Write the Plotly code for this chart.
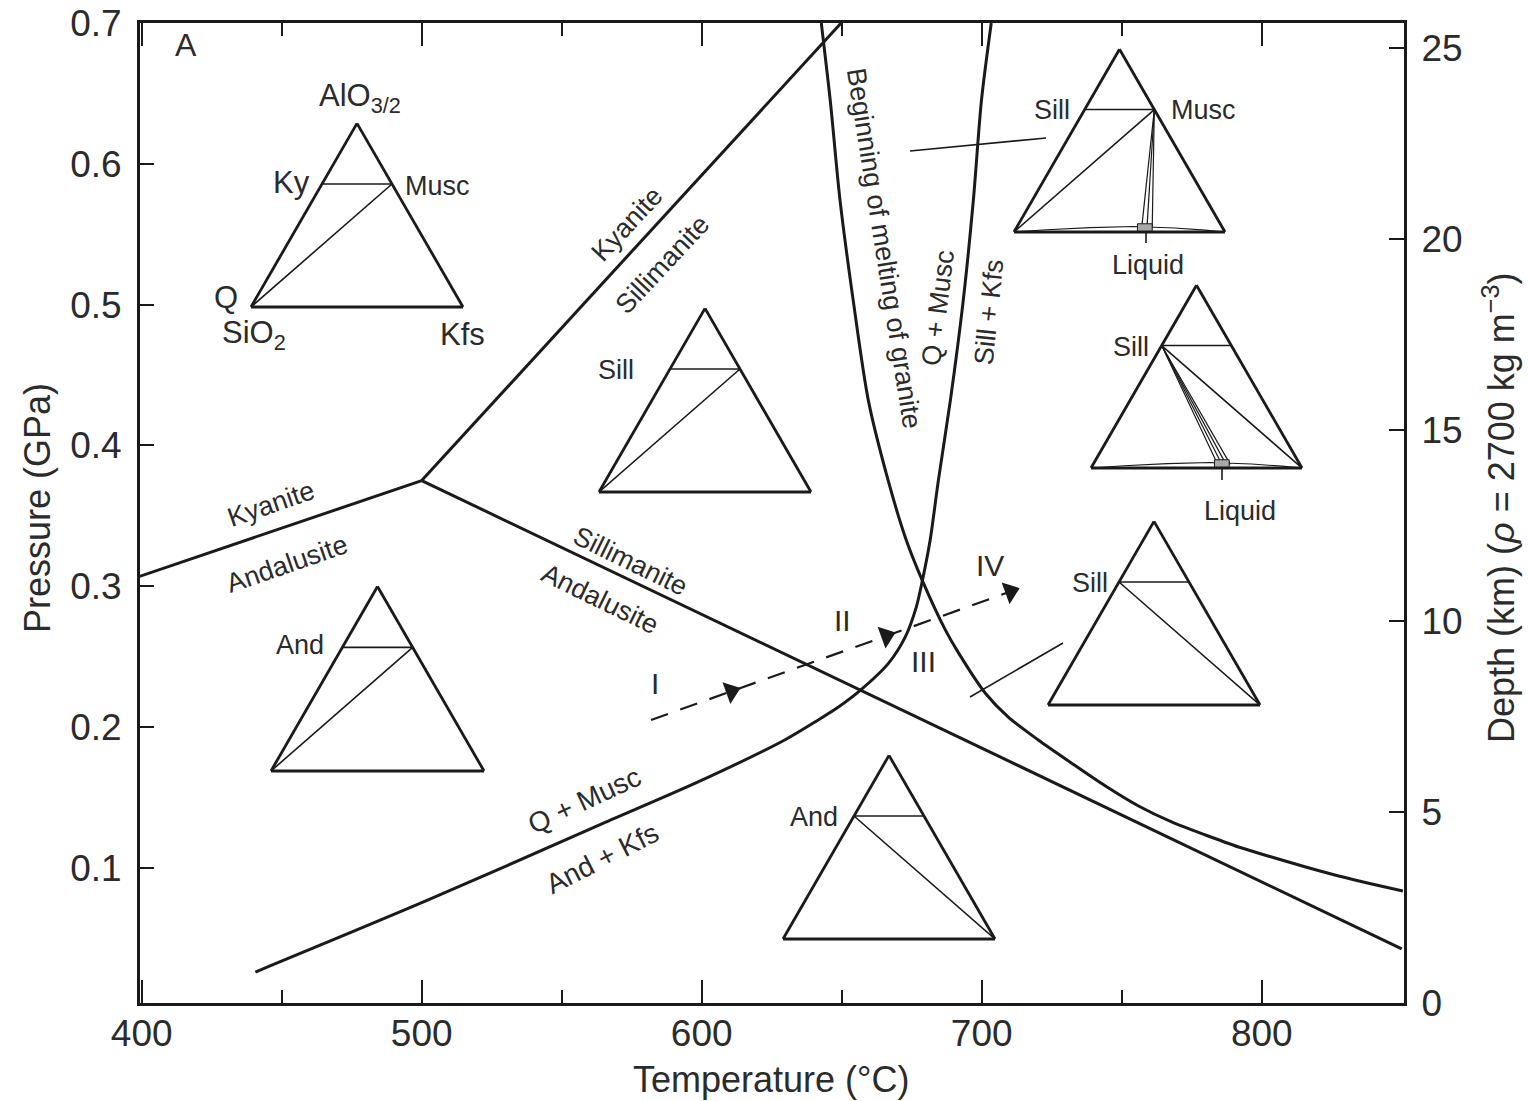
import plotly.graph_objects as go

# ---------------- data: phase boundaries (T in °C, P in GPa) ----------------
ky_and_T = [398.5, 500.0]
ky_and_P = [0.3065, 0.375]
ky_sill_T = [500.0, 649.8]
ky_sill_P = [0.375, 0.700]
sill_and_T = [500.0, 850.0]
sill_and_P = [0.375, 0.0425]

# Q + Musc = Al2SiO5 + Kfs (muscovite breakdown)
musc_T = [440.6, 502.1, 562.9, 598.7, 629.8, 641.6, 648.7, 656.6, 666.6, 672.7,
          676.6, 678.8, 681.6, 684.5, 688.8, 693.4, 697.0, 699.9, 703.4]
musc_P = [0.026, 0.077, 0.130, 0.161, 0.191, 0.205, 0.214, 0.226, 0.245, 0.264,
          0.285, 0.304, 0.333, 0.375, 0.432, 0.503, 0.574, 0.645, 0.700]

# beginning of melting of granite
melt_T = [642.7, 645.9, 649.4, 654.1, 659.5, 666.6, 673.0, 678.8, 687.0, 691.6,
          701.3, 709.5, 720.2, 732.0, 744.2, 756.0, 767.8, 779.9, 791.7, 803.5,
          815.7, 827.5, 839.3, 850.4]
melt_P = [0.700, 0.645, 0.574, 0.503, 0.432, 0.375, 0.333, 0.304, 0.269, 0.253,
          0.224, 0.207, 0.1908, 0.1745, 0.1581, 0.1439, 0.1326, 0.1233, 0.1148, 0.1077,
          0.1006, 0.0942, 0.0885, 0.0835]

# heating path I -> IV
path_T = [581.9, 714.9]
path_P = [0.205, 0.2995]
arrow_T = [610.5, 665.9, 710.2]
arrow_P = [0.2253, 0.2647, 0.2962]

x_ticks = [400, 500, 600, 700, 800]
p_ticks = [0.1, 0.2, 0.3, 0.4, 0.5, 0.6, 0.7]
depth_ticks = [0, 5, 10, 15, 20, 25]

# ---------------- data: ternary compositions (a=AlO3/2, b=SiO2, c=Kfs) ----------------
Q_C = (0.0, 1.0, 0.0)
KFS_C = (0.0, 0.0, 1.0)
ALSI_C = (0.67, 0.33, 0.0)     # Ky / Sill / And
MUSC_C = (0.67, 0.0, 0.33)
liq_fan7_c = [0.595, 0.62, 0.645]            # melt compositions joined to Musc
liq_fan6_c = [0.59, 0.61, 0.63, 0.65]        # melt compositions joined to Sill
lens_c = [0.0, 0.15, 0.35, 0.55, 0.75, 0.9, 1.0]
lens_a = [0.0, 0.012, 0.024, 0.03, 0.022, 0.01, 0.0]
liq_box_c = [0.585, 0.655, 0.6325, 0.5625, 0.585]
liq_box_a = [0.0, 0.0, 0.045, 0.045, 0.0]

INK = '#1a1a1a'
TXT = '#2b2b2b'
FONT = 'Liberation Sans, Arial, Helvetica, sans-serif'

# plot area in page pixels (for placing decorations)
PX0, PX1, PY0, PY1 = 140, 1404, 23, 1003


def px(xp):
    return (xp - PX0) / (PX1 - PX0)


def py(yp):
    return (PY1 - yp) / (PY1 - PY0)


fig = go.Figure()

line_main = dict(color=INK, width=3)
for T, P in [(ky_and_T, ky_and_P), (ky_sill_T, ky_sill_P), (sill_and_T, sill_and_P)]:
    fig.add_trace(go.Scatter(x=T, y=P, mode='lines', line=line_main,
                             showlegend=False, hoverinfo='skip'))
for T, P in [(musc_T, musc_P), (melt_T, melt_P)]:
    fig.add_trace(go.Scatter(x=T, y=P, mode='lines',
                             line=dict(color=INK, width=3, shape='spline', smoothing=0.8),
                             showlegend=False, hoverinfo='skip'))

fig.add_trace(go.Scatter(x=path_T, y=path_P, mode='lines',
                         line=dict(color=INK, width=2.2, dash='18px,13px'),
                         showlegend=False, hoverinfo='skip'))
fig.add_trace(go.Scatter(x=arrow_T, y=arrow_P, mode='markers',
                         marker=dict(symbol='triangle-right', size=20, angle=-20, color=INK,
                                     line=dict(width=0)),
                         showlegend=False, hoverinfo='skip'))

# depth axis (dummy trace to activate y2)
fig.add_trace(go.Scatter(x=[None], y=[None], yaxis='y2', showlegend=False, hoverinfo='skip'))

# ---------------- ternary insets ----------------
tern_axis = dict(showline=True, linecolor=INK, linewidth=2.8, showgrid=False,
                 ticks='', showticklabels=False, title=dict(text=''))


def tern_layout(xL, xR, yb):
    w = xR - xL
    h = w * 0.8660254
    return dict(domain=dict(x=[px(xL), px(xR)], y=[py(yb), py(yb - h)]),
                bgcolor='rgba(0,0,0,0)', sum=1,
                aaxis=tern_axis, baxis=tern_axis, caxis=tern_axis)


tern_geom = {
    'ternary': (251, 463, 307),    # Ky
    'ternary2': (599, 811, 492),   # Sill
    'ternary3': (271, 484, 771),   # And
    'ternary4': (783, 995, 939),   # And, low
    'ternary5': (1048, 1260, 705), # Sill + Kfs
    'ternary6': (1091, 1302, 468), # Sill + liquid
    'ternary7': (1014, 1225, 232), # Sill + Musc + liquid
}
layout_tern = {k: tern_layout(*v) for k, v in tern_geom.items()}


def tline(sub, p1, p2, width=1.6):
    fig.add_trace(go.Scatterternary(a=[p1[0], p2[0]], b=[p1[1], p2[1]], c=[p1[2], p2[2]],
                                    mode='lines', line=dict(color=INK, width=width),
                                    subplot=sub, showlegend=False, hoverinfo='skip',
                                    cliponaxis=False))


def liquid(sub, fan_from, fan_c):
    # melt lens along the base
    fig.add_trace(go.Scatterternary(a=lens_a, c=lens_c, b=[1 - a - c for a, c in zip(lens_a, lens_c)],
                                    mode='lines', line=dict(color=INK, width=1.1),
                                    subplot=sub, showlegend=False, hoverinfo='skip'))
    for c in fan_c:
        tline(sub, fan_from, (0.02, 0.98 - c, c), width=1.2)
    fig.add_trace(go.Scatterternary(a=liq_box_a, c=liq_box_c,
                                    b=[1 - a - c for a, c in zip(liq_box_a, liq_box_c)],
                                    mode='lines', fill='toself', fillcolor='#a8a8a8',
                                    line=dict(color=INK, width=1.0),
                                    subplot=sub, showlegend=False, hoverinfo='skip'))


# Ky / Sill / And with Q + Musc
for sub in ['ternary', 'ternary2', 'ternary3']:
    tline(sub, ALSI_C, MUSC_C)
    tline(sub, Q_C, MUSC_C)
# And / Sill + Kfs
for sub in ['ternary4', 'ternary5']:
    tline(sub, ALSI_C, MUSC_C)
    tline(sub, ALSI_C, KFS_C)
# Sill + liquid
tline('ternary6', ALSI_C, MUSC_C)
tline('ternary6', ALSI_C, KFS_C)
liquid('ternary6', ALSI_C, liq_fan6_c)
# Sill + Musc + liquid
tline('ternary7', ALSI_C, MUSC_C)
tline('ternary7', Q_C, MUSC_C)
liquid('ternary7', MUSC_C, liq_fan7_c)

# ---------------- text labels ----------------
labels = [
    ("A", 186, 45, 32, 0),
    ("AlO<sub>3/2</sub>", 360, 98, 31, 0),
    ("Ky", 291, 183, 31, 0),
    ("Musc", 437, 186, 27, 0),
    ("Q", 226, 297, 31, 0),
    ("SiO<sub>2</sub>", 254, 335, 31, 0),
    ("Kfs", 463, 334, 31, 0),
    ("Kyanite", 271, 504, 27, -19),
    ("Andalusite", 287, 564, 27, -19),
    ("Kyanite", 627, 224, 27, -47),
    ("Sillimanite", 662, 265, 27, -47),
    ("Sill", 616, 370, 27, 0),
    ("And", 300, 645, 27, 0),
    ("Sillimanite", 630, 561, 27, 26),
    ("Andalusite", 600, 599, 27, 26),
    ("Q + Musc", 584, 800, 28, -25),
    ("And + Kfs", 602, 858, 28, -27),
    ("And", 814, 817, 27, 0),
    ("Beginning of melting of granite", 884, 248, 27, 81),
    ("Q + Musc", 938, 308, 27, -83),
    ("Sill + Kfs", 989, 312, 27, -84),
    ("Sill", 1052, 110, 27, 0),
    ("Musc", 1203, 110, 27, 0),
    ("Liquid", 1148, 265, 27, 0),
    ("Sill", 1131, 347, 27, 0),
    ("Liquid", 1240, 511, 27, 0),
    ("Sill", 1090, 583, 27, 0),
    ("I", 655, 683, 30, 0),
    ("II", 842, 620, 30, 0),
    ("III", 923, 662, 30, 0),
    ("IV", 990, 565, 30, 0),
]
annotations = [dict(text=t, x=px(x), y=py(y), xref='paper', yref='paper', showarrow=False,
                    xanchor='center', yanchor='middle', textangle=a,
                    font=dict(size=s, color=TXT, family=FONT))
               for t, x, y, s, a in labels]

# axis titles
axis_titles = [
    ("Temperature (°C)", 771, 1079, 0),
    ("Pressure (GPa)", 37, 508, -90),
    ("Depth (km) (<i>ρ</i> = 2700 kg m<sup>−3</sup>)", 1499, 508, -90),
]
for t, x, y, a in axis_titles:
    annotations.append(dict(text=t, x=px(x), y=py(y), xref='paper', yref='paper',
                            showarrow=False, xanchor='center', yanchor='middle', textangle=a,
                            font=dict(size=36, color=TXT, family=FONT)))

seg = [
    (910, 151, 1046, 138),   # leader to top-right triangle
    (970, 697, 1063, 643),   # leader to lower-right triangle
    (1146, 233, 1146, 243),  # liquid tick
    (1222, 469, 1222, 480),  # liquid tick
]
shapes = [dict(type='line', xref='paper', yref='paper', x0=px(a), y0=py(b), x1=px(c), y1=py(d),
               line=dict(color=INK, width=1.6)) for a, b, c, d in seg]

# ---------------- layout ----------------
W, H = 1528, 1101
tickfont = dict(size=37, color=TXT, family=FONT)

fig.update_layout(
    width=W, height=H,
    margin=dict(l=PX0, r=W - PX1, t=PY0, b=H - PY1),
    paper_bgcolor='white', plot_bgcolor='white',
    font=dict(family=FONT, color=TXT),
    showlegend=False,
    hovermode=False,
    xaxis=dict(range=[399.4, 850.8], tickvals=x_ticks, ticks='inside', ticklen=23, tickwidth=2,
               tickcolor=INK, showline=True, linecolor=INK, linewidth=3, mirror='ticks',
               showgrid=False, zeroline=False, tickfont=tickfont, ticklabelstandoff=-4,
               automargin=False,
               minor=dict(tickvals=[450, 550, 650, 750], ticks='inside', ticklen=13,
                          tickwidth=2, tickcolor=INK, showgrid=False)),
    yaxis=dict(range=[0.004, 0.7], tickvals=p_ticks, ticktext=[str(v) for v in p_ticks],
               ticks='inside', ticklen=14, tickwidth=2, tickcolor=INK,
               showline=True, linecolor=INK, linewidth=3, showgrid=False, zeroline=False,
               tickfont=tickfont, ticklabelstandoff=8, automargin=False),
    yaxis2=dict(range=[0, 25.65], tickvals=depth_ticks, overlaying='y', side='right',
                ticks='inside', ticklen=15, tickwidth=2, tickcolor=INK,
                showline=True, linecolor=INK, linewidth=3, showgrid=False, zeroline=False,
                tickfont=tickfont, ticklabelstandoff=7, automargin=False),
    annotations=annotations,
    shapes=shapes,
    **layout_tern,
)

fig.write_html("out.html", config={'displayModeBar': False},
               post_script="document.body.style.margin='0';document.body.style.overflow='hidden';")
